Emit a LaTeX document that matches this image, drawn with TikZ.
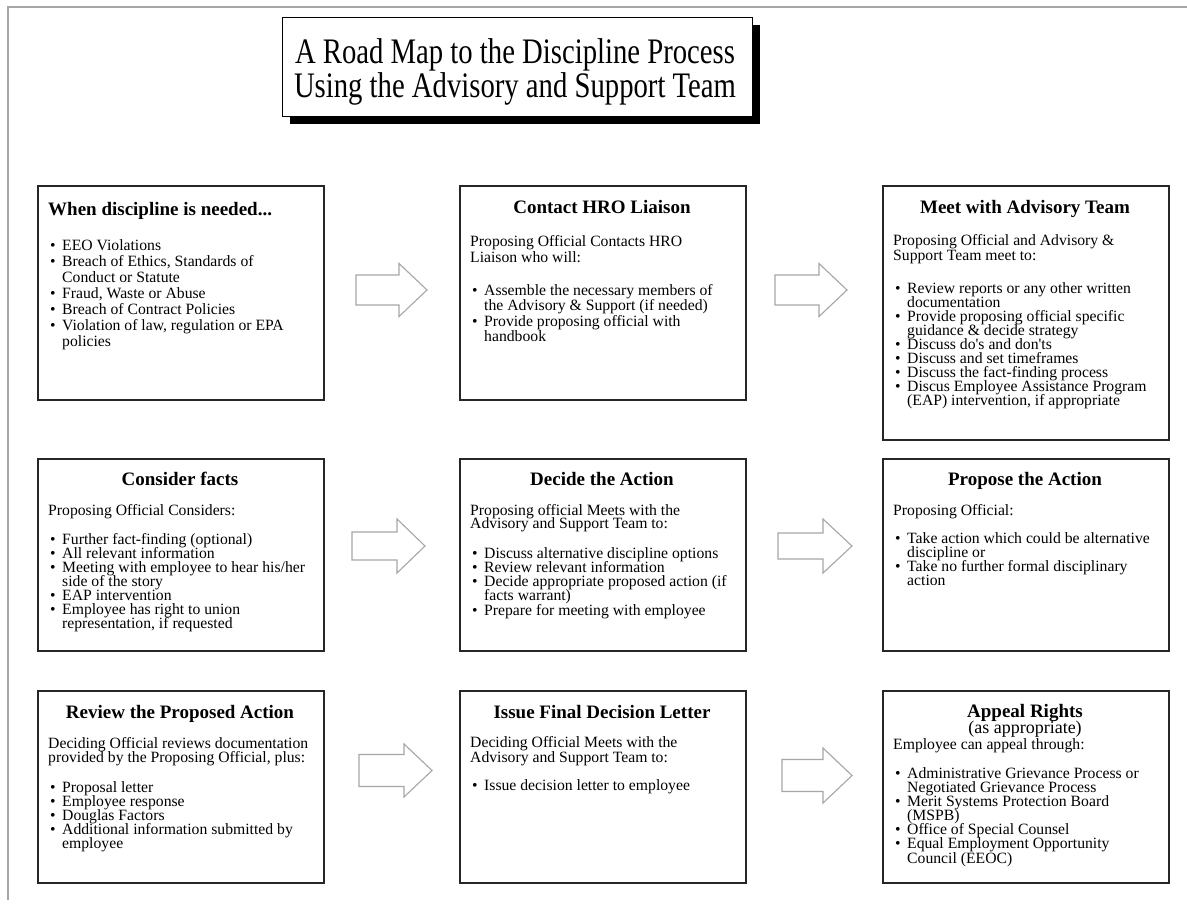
\documentclass[tikz,border=0pt]{standalone}
\usepackage{fontspec}
\setmainfont{Liberation Serif}[Ligatures=TeXOff]
\usepackage{graphicx}
\newcommand\bl{\makebox[12pt][l]{\textbullet}}
\newcommand\ind{\hspace*{12pt}}
\newcommand\tblock[2]{\parbox[t]{290pt}{\raggedright\fontsize{15.7}{#1}\selectfont\lineskiplimit=-100pt\lineskip=0pt #2}}
\newcommand\blockarrow[7]{%
  \draw[barrow] (#2,#5-#6) -- (#3,#5-#6) -- (#3,#5-#7) -- (#4,#5) -- (#3,#5+#7) -- (#3,#5+#6) -- (#2,#5+#6) -- cycle;
  \coordinate (#1) at (#4,#5);}
\tikzset{
  box/.style={draw=black!85, line width=1.8pt, fill=white, anchor=north west, inner sep=0pt, minimum width=286pt},
  head/.style={font=\fontsize{19}{19}\selectfont\bfseries, inner sep=0pt, anchor=base},
  txt/.style={inner sep=0pt, anchor=base west},
  barrow/.style={draw=black!35, line width=1.1pt, fill=white, line join=miter},
  pageline/.style={draw=black!35, line width=1.4pt},
}
\begin{document}
\begin{tikzpicture}[x=1pt,y=-1pt]
\useasboundingbox (0,0) rectangle (1187,905);
\fill[white] (0,0) rectangle (1187,905);
\draw[pageline] (8,900) -- (8,7) -- (1187,7);

% title
\node[fill=black, anchor=north west, inner sep=0pt, minimum width=470pt, minimum height=99pt] (tshadow) at (290,25) {};
\node[draw=black, line width=1.4pt, fill=white, anchor=north west, inner sep=0pt, minimum width=470pt, minimum height=99pt] (title) at (282,17) {};
\node[inner sep=0pt, anchor=base] (ttext) at (515,63) {\scalebox{1}[1.25]{\parbox[t]{460pt}{\centering\fontsize{28.7}{27.3}\selectfont\lineskiplimit=-100pt\lineskip=0pt A Road Map to the Discipline Process\\Using the Advisory and Support Team}}};

% row 1
\node[box, minimum height=214pt] (b1) at (37,185) {};
\node[head, anchor=base west] (h1) at (48,215) {When discipline is needed...};
\node[txt] (l1) at (50,250) {\tblock{16}{\bl EEO Violations\\
\bl Breach of Ethics, Standards of\\ \ind Conduct or Statute\\
\bl Fraud, Waste or Abuse\\
\bl Breach of Contract Policies\\
\bl Violation of law, regulation or EPA\\ \ind policies}};

\node[box, minimum height=214pt] (b2) at (459,185) {};
\node[head] (h2) at (602,213) {Contact HRO Liaison};
\node[txt] (p2) at (470,246) {\tblock{16}{Proposing Official Contacts HRO\\Liaison who will:}};
\node[txt] (l2) at (472,295) {\tblock{15.6}{\bl Assemble the necessary members of\\ \ind the Advisory \& Support (if needed)\\
\bl Provide proposing official with\\ \ind handbook}};

\node[box, minimum height=254pt] (b3) at (882,185) {};
\node[head] (h3) at (1025,213) {Meet with Advisory Team};
\node[txt] (p3) at (893,245) {\tblock{15}{Proposing Official and Advisory \&\\Support Team meet to:}};
\node[txt] (l3) at (895,293) {\tblock{14}{\bl Review reports or any other written\\ \ind documentation\\
\bl Provide proposing official specific\\ \ind guidance \& decide strategy\\
\bl Discuss do's and don'ts\\
\bl Discuss and set timeframes\\
\bl Discuss the fact-finding process\\
\bl Discus Employee Assistance Program\\ \ind (EAP) intervention, if appropriate}};

% row 2
\node[box, minimum height=192pt] (b4) at (37,458) {};
\node[head] (h4) at (180,485) {Consider facts};
\node[txt] (p4) at (48,515) {\tblock{14}{Proposing Official Considers:}};
\node[txt] (l4) at (50,544) {\tblock{14}{\bl Further fact-finding (optional)\\
\bl All relevant information\\
\bl Meeting with employee to hear his/her\\ \ind side of the story\\
\bl EAP intervention\\
\bl Employee has right to union\\ \ind representation, if requested}};

\node[box, minimum height=192pt] (b5) at (459,458) {};
\node[head] (h5) at (602,485) {Decide the Action};
\node[txt] (p5) at (470,515) {\tblock{13.5}{Proposing official Meets with the\\Advisory and Support Team to:}};
\node[txt] (l5) at (472,558) {\tblock{14.25}{\bl Discuss alternative discipline options\\
\bl Review relevant information\\
\bl Decide appropriate proposed action (if\\ \ind facts warrant)\\
\bl Prepare for meeting with employee}};

\node[box, minimum height=192pt] (b6) at (882,458) {};
\node[head] (h6) at (1025,485) {Propose the Action};
\node[txt] (p6) at (893,515) {\tblock{14}{Proposing Official:}};
\node[txt] (l6) at (895,543) {\tblock{14}{\bl Take action which could be alternative\\ \ind discipline or\\
\bl Take no further formal disciplinary\\ \ind action}};

% row 3
\node[box, minimum height=192pt] (b7) at (37,690) {};
\node[head] (h7) at (180,718) {Review the Proposed Action};
\node[txt] (p7) at (48,748) {\tblock{14}{Deciding Official reviews documentation\\provided by the Proposing Official, plus:}};
\node[txt] (l7) at (50,792) {\tblock{14}{\bl Proposal letter\\
\bl Employee response\\
\bl Douglas Factors\\
\bl Additional information submitted by\\ \ind employee}};

\node[box, minimum height=192pt] (b8) at (459,690) {};
\node[head] (h8) at (602,718) {Issue Final Decision Letter};
\node[txt] (p8) at (470,747) {\tblock{15}{Deciding Official Meets with the\\Advisory and Support Team to:}};
\node[txt] (l8) at (472,790) {\tblock{14}{\bl Issue decision letter to employee}};

\node[box, minimum height=192pt] (b9) at (882,690) {};
\node[head] (h9) at (1025,717) {Appeal Rights};
\node[inner sep=0pt, anchor=base, font=\fontsize{18}{18}\selectfont] (h9b) at (1025,733) {(as appropriate)};
\node[txt] (p9) at (893,749) {\tblock{14}{Employee can appeal through:}};
\node[txt] (l9) at (895,778) {\tblock{14.17}{\bl Administrative Grievance Process or\\ \ind Negotiated Grievance Process\\
\bl Merit Systems Protection Board\\ \ind (MSPB)\\
\bl Office of Special Counsel\\
\bl Equal Employment Opportunity\\ \ind Council (EEOC)}};

% block arrows
\blockarrow{a1}{356}{399}{427}{290}{15}{26.5}
\blockarrow{a2}{775}{819}{847}{290}{15}{26.5}
\blockarrow{a3}{352}{397}{425}{546}{14}{27}
\blockarrow{a4}{778}{823}{852}{546}{13}{27}
\blockarrow{a5}{359}{404}{432}{770.5}{16}{26.5}
\blockarrow{a6}{782}{823}{852}{775.5}{16}{27.5}
\end{tikzpicture}
\end{document}
